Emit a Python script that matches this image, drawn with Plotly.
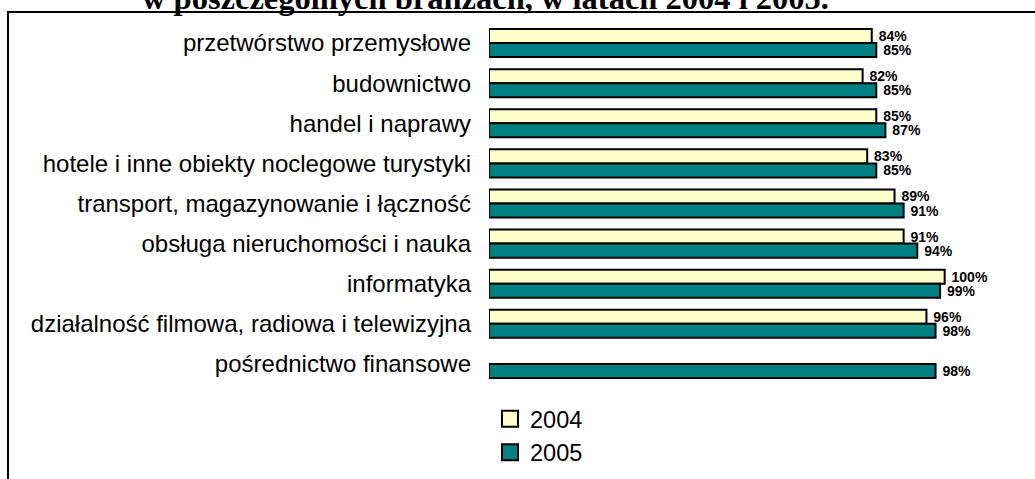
import plotly.graph_objects as go

categories = [
    "przetwórstwo przemysłowe",
    "budownictwo",
    "handel i naprawy",
    "hotele i inne obiekty noclegowe turystyki",
    "transport, magazynowanie i łączność",
    "obsługa nieruchomości i nauka",
    "informatyka",
    "działalność filmowa, radiowa i telewizyjna",
    "pośrednictwo finansowe",
]
values_2004 = [84, 82, 85, 83, 89, 91, 100, 96, None]
values_2005 = [85, 85, 87, 85, 91, 94, 99, 98, 98]
series_names = ["2004", "2005"]
colors = ["#FFFFCC", "#008080"]
title_text = "w poszczególnych branżach, w latach 2004 i 2005."

fig = go.Figure()
for name, vals, col in zip(series_names, [values_2004, values_2005], colors):
    fig.add_trace(go.Bar(
        y=categories, x=vals, orientation="h", name=name,
        marker=dict(color=col, line=dict(color="black", width=2)),
        text=[(" %d%%" % v) if v is not None else "" for v in vals],
        textposition="outside", constraintext="none", cliponaxis=False,
        textfont=dict(family="Liberation Sans", size=14, color="black", weight="bold"),
        showlegend=False,
    ))
    # legend proxies
    fig.add_trace(go.Scatter(
        x=[None], y=[None], mode="markers", name=name,
        marker=dict(symbol="square", size=16, color=col, line=dict(color="black", width=2)),
        showlegend=True,
    ))

fig.update_layout(
    width=1035, height=479,
    margin=dict(l=489, r=22, t=23, b=95, autoexpand=False),
    paper_bgcolor="white", plot_bgcolor="white",
    barmode="group", bargap=0.3, bargroupgap=0,
    showlegend=True,
    legend=dict(x=(490 - 489) / 524, y=(384 - 397) / 361, xanchor="left", yanchor="top",
                font=dict(family="Liberation Sans", size=23.5, color="black"),
                traceorder="normal", itemwidth=30, bgcolor="rgba(0,0,0,0)"),
    xaxis=dict(range=[0, 115], visible=False, showgrid=False, zeroline=False),
    yaxis=dict(type="category", categoryorder="array", categoryarray=categories,
               range=[8.5, -0.5], showgrid=False, zeroline=False, showline=False,
               ticks="", ticklabelstandoff=17,
               tickfont=dict(family="Liberation Sans", size=24, color="black")),
    shapes=[dict(type="rect", xref="paper", yref="paper",
                 x0=(8 - 489) / 524, x1=(1045 - 489) / 524,
                 y0=(384 - 495) / 361, y1=(384 - 12) / 361,
                 line=dict(color="black", width=2), fillcolor="rgba(0,0,0,0)", layer="below")],
    annotations=[dict(text="<b>" + title_text + "</b>", xref="paper", yref="paper",
                      x=(485 - 489) / 524, y=(384 + 2) / 361, xanchor="center", yanchor="middle",
                      showarrow=False,
                      font=dict(family="Liberation Serif", size=32.5, color="black"))],
)

fig.write_html("out.html", config={"displayModeBar": False},
               post_script="document.body.style.margin='0';document.body.style.overflow='hidden';")
